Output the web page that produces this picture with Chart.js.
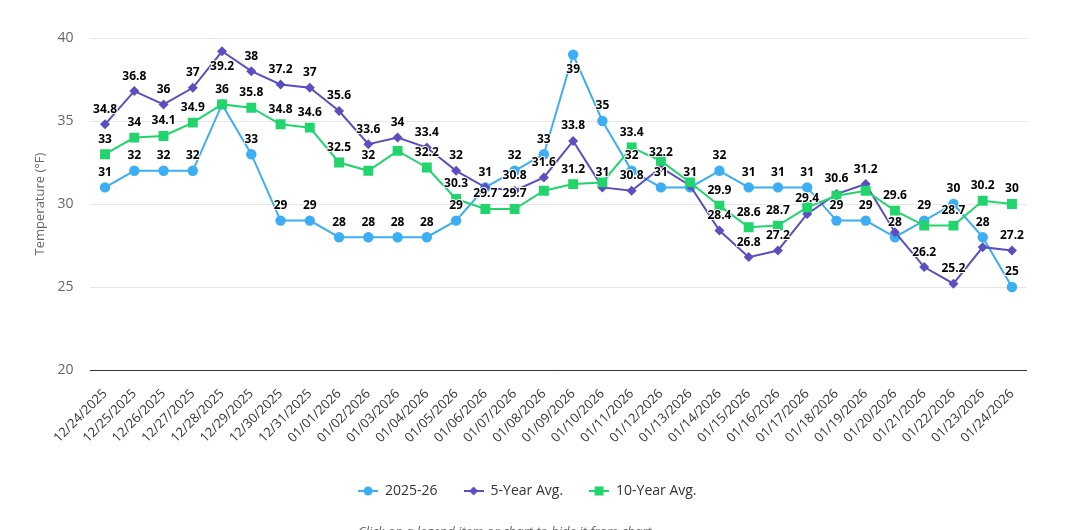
<!DOCTYPE html>
<html>
<head>
<meta charset="utf-8">
<script src="https://cdn.jsdelivr.net/npm/chart.js@4.4.1/dist/chart.umd.min.js"></script>
<style>
  html, body { margin: 0; padding: 0; background: #fff; overflow: hidden; }
  #wrap { position: relative; width: 1066px; height: 530px; }
  #note {
    position: absolute; left: 358px; top: 522px;
    font: italic 13px "Open Sans", sans-serif; color: #666; white-space: nowrap;
  }
</style>
</head>
<body>
<div id="wrap">
  <canvas id="tempChart" width="1066" height="530"></canvas>
  <div id="note">Click on a legend item or chart to hide it from chart</div>
</div>
<script>
// Daily average temperature (°F), 12/24/2025 – 01/24/2026
const dates = [
  "12/24/2025", "12/25/2025", "12/26/2025", "12/27/2025", "12/28/2025", "12/29/2025",
  "12/30/2025", "12/31/2025", "01/01/2026", "01/02/2026", "01/03/2026", "01/04/2026",
  "01/05/2026", "01/06/2026", "01/07/2026", "01/08/2026", "01/09/2026", "01/10/2026",
  "01/11/2026", "01/12/2026", "01/13/2026", "01/14/2026", "01/15/2026", "01/16/2026",
  "01/17/2026", "01/18/2026", "01/19/2026", "01/20/2026", "01/21/2026", "01/22/2026",
  "01/23/2026", "01/24/2026",
];
const season2526 = [31, 32, 32, 32, 36, 33, 29, 29, 28, 28, 28, 28, 29, 31, 32, 33,
                    39, 35, 32, 31, 31, 32, 31, 31, 31, 29, 29, 28, 29, 30, 28, 25];
const fiveYearAvg = [34.8, 36.8, 36, 37, 39.2, 38, 37.2, 37, 35.6, 33.6, 34, 33.4, 32, 31, 30.8, 31.6,
                     33.8, 31, 30.8, 32.2, 31.1, 28.4, 26.8, 27.2, 29.4, 30.6, 31.2, 28.3, 26.2, 25.2, 27.4, 27.2];
const tenYearAvg = [33, 34, 34.1, 34.9, 36, 35.8, 34.8, 34.6, 32.5, 32, 33.2, 32.2, 30.3, 29.7, 29.7, 30.8,
                    31.2, 31.3, 33.4, 32.6, 31.3, 29.9, 28.6, 28.7, 29.8, 30.5, 30.8, 29.6, 28.7, 28.7, 30.2, 30];
const yTicks = { min: 20, max: 40, step: 5 };

const BLUE = "#3eaef4";
const PURPLE = "#5a4fbf";
const GREEN = "#22d46c";

Chart.defaults.font.family = "'Open Sans', sans-serif";

/** Small line+marker icon for the legend, Highcharts style. */
const legendIcon = (color, shape) => {
  const c = document.createElement("canvas");
  c.width = 20; c.height = 12;
  const g = c.getContext("2d");
  g.strokeStyle = color; g.lineWidth = 2;
  g.beginPath(); g.moveTo(0, 6); g.lineTo(20, 6); g.stroke();
  g.fillStyle = color;
  g.beginPath();
  if (shape === "circle") g.arc(10, 6, 4.5, 0, Math.PI * 2);
  else if (shape === "diamond") { g.moveTo(10, 1.5); g.lineTo(14.5, 6); g.lineTo(10, 10.5); g.lineTo(5.5, 6); g.closePath(); }
  else g.rect(5.5, 1.5, 9, 9);
  g.fill();
  return c;
};
const icons = [legendIcon(BLUE, "circle"), legendIcon(PURPLE, "diamond"), legendIcon(GREEN, "square")];

/**
 * Value labels above each point. Labels that collide with one already placed
 * are skipped (first series wins), and labels that would leave the plot on
 * top are flipped below the point.
 */
const pointLabels = {
  id: "pointLabels",
  afterDatasetsDraw(chart) {
    const { ctx, chartArea } = chart;
    ctx.save();
    ctx.font = "bold 12px 'Open Sans', sans-serif";
    ctx.textAlign = "center";
    ctx.textBaseline = "middle";
    ctx.lineJoin = "round";
    const placed = [];
    chart.data.datasets.forEach((ds, di) => {
      const meta = chart.getDatasetMeta(di);
      if (!chart.isDatasetVisible(di)) return;
      meta.data.forEach((pt, i) => {
        const text = String(ds.data[i]);
        const w = ctx.measureText(text).width;
        const h = 16;
        let y = pt.y - 15;
        if (y - h / 2 < chartArea.top) y = pt.y + 15;
        const box = { l: pt.x - w / 2, r: pt.x + w / 2, t: y - h / 2, b: y + h / 2 };
        if (placed.some(b => box.l < b.r && box.r > b.l && box.t < b.b && box.b > b.t)) return;
        placed.push(box);
        ctx.lineWidth = 2;
        ctx.strokeStyle = "#fff";
        ctx.strokeText(text, pt.x, y);
        ctx.fillStyle = "#000";
        ctx.fillText(text, pt.x, y);
      });
    });
    ctx.restore();
  },
};

// legend row sits a little right of the plot centre in the original
const legendNudge = {
  id: "legendNudge",
  afterLayout(chart) {
    if (!chart.legend) return;
    chart.legend.left += 14;
    chart.legend.right += 14;
  },
};

const series = (label, data, color, pointStyle, radius, order) => ({
  label,
  data,
  borderColor: color,
  backgroundColor: color,
  pointBackgroundColor: color,
  pointBorderColor: color,
  pointBorderWidth: 0,
  borderWidth: 2,
  pointStyle,
  pointRadius: radius,
  pointHoverRadius: radius,
  tension: 0,
  order,
});

new Chart(document.getElementById("tempChart"), {
  type: "line",
  data: {
    labels: dates,
    datasets: [
      series("2025-26", season2526, BLUE, "circle", 5.2, 3),
      series("5-Year Avg.", fiveYearAvg, PURPLE, "rectRot", 5, 2),
      series("10-Year Avg.", tenYearAvg, GREEN, "rect", 7, 1),
    ],
  },
  plugins: [pointLabels, legendNudge],
  options: {
    responsive: false,
    animation: false,
    layout: { padding: { left: 0, right: 39.4, top: 38, bottom: 22 } },
    plugins: {
      tooltip: { enabled: false },
      legend: {
        position: "bottom",
        labels: {
          usePointStyle: true,
          pointStyleWidth: 20,
          padding: 26,
          color: "#333",
          font: { size: 14 },
          sort: (a, b) => a.datasetIndex - b.datasetIndex,
          generateLabels: chart =>
            Chart.defaults.plugins.legend.labels.generateLabels(chart)
              .map(item => ({ ...item, pointStyle: icons[item.datasetIndex] })),
        },
      },
    },
    scales: {
      x: {
        offset: true,
        grid: { display: false },
        border: { display: true, color: "#333", width: 1 },
        ticks: {
          color: "#333",
          font: { size: 13 },
          maxRotation: 45,
          minRotation: 45,
          autoSkip: false,
          padding: 8,
        },
        afterFit: s => { s.height = 88; },
      },
      y: {
        min: yTicks.min,
        max: yTicks.max,
        ticks: { stepSize: yTicks.step, color: "#666", font: { size: 14 }, padding: 17 },
        grid: { color: "#e6e6e6", drawTicks: false },
        border: { display: false },
        title: {
          display: true,
          text: "Temperature (°F)",
          color: "#666",
          font: { size: 13 },
          padding: { top: 32, bottom: 0 },
        },
        afterFit: s => { s.width = 90.4; },
      },
    },
  },
});
</script>
</body>
</html>
